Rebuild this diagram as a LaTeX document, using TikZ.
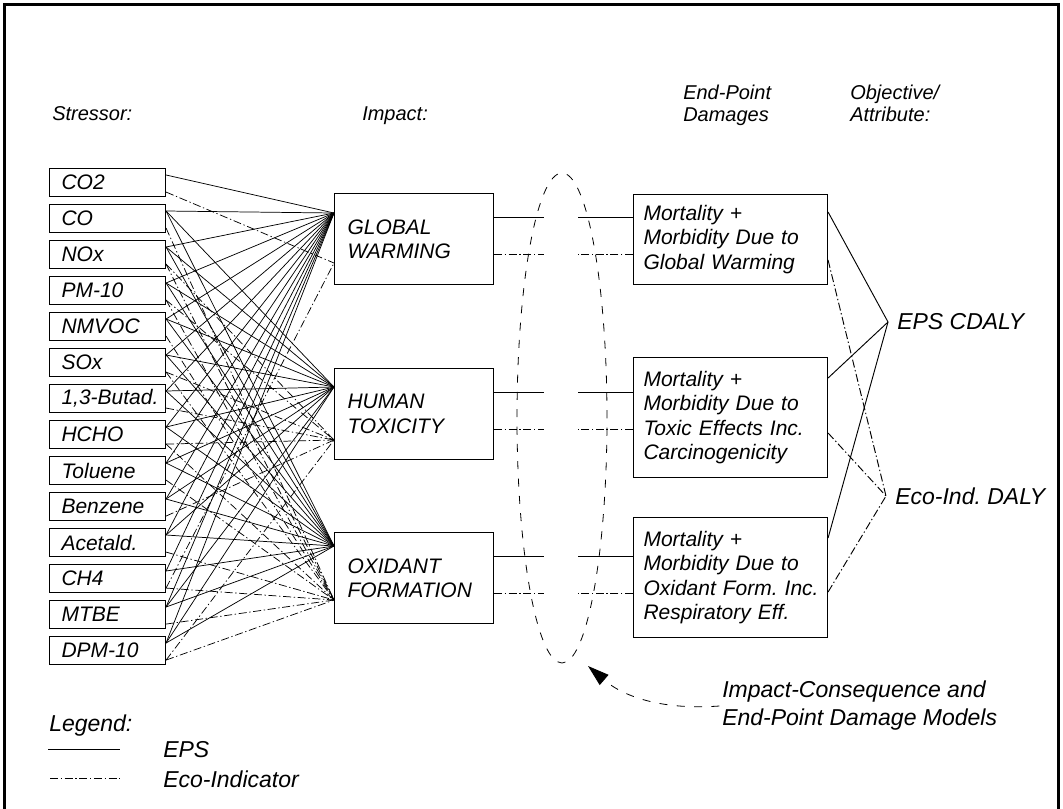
\documentclass[tikz,border=0pt]{standalone}
\usepackage{fontspec}
\setmainfont{Liberation Sans}
\usetikzlibrary{arrows.meta,calc}
\newcommand{\fbody}{\fontsize{15.75pt}{18.4pt}\selectfont\itshape}
\newcommand{\fhead}{\fontsize{15pt}{16.5pt}\selectfont\itshape}
\newcommand{\fbig}{\fontsize{17.25pt}{21pt}\selectfont\itshape}
\frenchspacing
\begin{document}
\begin{tikzpicture}[x=0.75pt,y=-0.75pt,
  box/.style={draw, line width=0.8pt, anchor=north west, align=left, inner ysep=0pt, font=\fbody},
  stressbox/.style={box, minimum height=21pt, text width=69pt, inner xsep=9pt},
  impactbox/.style={box, minimum height=68.25pt, text width=99.75pt, inner xsep=9.75pt},
  dmgbox/.style={box, text width=130.5pt, inner xsep=7.5pt},
  epsline/.style={line width=0.7pt},
  ecoline/.style={line width=0.7pt, dash pattern=on 6pt off 2pt on 1pt off 2pt},
  thinl/.style={line width=0.55pt},
  lbl/.style={anchor=base west, inner sep=0pt},
  roundash/.style={line width=0.6pt, dash pattern=on 6pt off 7pt},
]
\useasboundingbox (0,0) rectangle (1063,808);
% frame
\draw[line width=2.25pt] (4,815) -- (4,4) -- (1058,4) -- (1058,815);

% headers
\node[lbl, font=\fhead] (h1) at (52,120) {Stressor:};
\node[lbl, font=\fhead] (h2) at (362,120) {Impact:};
\node[lbl, font=\fhead] (h3a) at (683,99) {End-Point};
\node[lbl, font=\fhead] (h3b) at (683,121) {Damages};
\node[lbl, font=\fhead] (h4a) at (850,99) {Objective/};
\node[lbl, font=\fhead] (h4b) at (850,121) {Attribute:};

% stressors
\foreach \t [count=\i] in {CO2, CO, NOx, PM-10, NMVOC, SOx, {1,3-Butad.}, HCHO, Toluene, Benzene, Acetald., CH4, MTBE, DPM-10}
  \node[stressbox] (s\i) at (49,{168+36*(\i-1)}) {\mbox{\t}};

% impacts
\node[impactbox] (gw) at (334,193) {GLOBAL\\WARMING};
\node[impactbox] (ht) at (334,368) {HUMAN\\TOXICITY};
\node[impactbox] (ox) at (334,532) {OXIDANT\\FORMATION};

% damages
\node[dmgbox, minimum height=67.5pt] (dgw) at (633,194)
  {\mbox{Mortality +}\\\mbox{Morbidity Due to}\\\mbox{Global Warming}};
\node[dmgbox, minimum height=90pt] (dht) at (633,357)
  {\mbox{Mortality +}\\\mbox{Morbidity Due to}\\\mbox{Toxic Effects Inc.}\\\mbox{Carcinogenicity}};
\node[dmgbox, minimum height=90pt] (dox) at (633,517)
  {\mbox{Mortality +}\\\mbox{Morbidity Due to}\\\mbox{Oxidant Form. Inc.}\\\mbox{Respiratory Eff.}};

% objectives
\node[font=\fbig, anchor=west, inner xsep=6.75pt, inner ysep=0pt] (eps) at (888,322) {EPS CDALY};
\node[font=\fbig, anchor=west, inner xsep=6.75pt, inner ysep=0pt] (eco) at (886,496) {Eco-Ind. DALY};

% stressor -> impact (EPS, solid)
\foreach \i in {1,...,14}
  \draw[thinl] ([yshift=-5.25pt]s\i.north east) -- ([yshift=-15pt]gw.north west);
\foreach \i in {2,3,4,5,6,7,8,9,10,11,13,14}
  \draw[thinl] ([yshift=-5.25pt]s\i.north east) -- ([yshift=-14.25pt]ht.north west);
\foreach \i in {2,3,4,5,6,7,8,9,10,11,12,13,14}
  \draw[thinl] ([yshift=-5.25pt]s\i.north east) -- ([yshift=-10.5pt]ox.north west);
% stressor -> impact (Eco-indicator, dash-dot)
\foreach \i in {1,12}
  \draw[thinl, ecoline, line width=0.55pt] ([yshift=3.75pt]s\i.south east) -- ([yshift=-52.5pt]gw.north west);
\foreach \i in {3,4,6,7,8,10,14}
  \draw[thinl, ecoline, line width=0.55pt] ([yshift=3.75pt]s\i.south east) -- ([yshift=-54pt]ht.north west);
\foreach \i in {2,3,4,5,6,8,9,11,12,13,14}
  \draw[thinl, ecoline, line width=0.55pt] ([yshift=3.75pt]s\i.south east) -- ([yshift=-51pt]ox.north west);

% impact -> damage (interrupted by the model ellipse)
\foreach \a/\d in {gw/dgw, ht/dht, ox/dox} {
  \coordinate (\a s) at ([yshift=-18pt]\a.north east);
  \coordinate (\a e) at ([yshift=-45.75pt]\a.north east);
  \draw[epsline] (\a s) -- ++(50,0);
  \draw[epsline] (\d.west |- \a s) -- ++(-55,0);
  \draw[ecoline] (\a e) -- ++(50,0);
  \draw[ecoline] (\d.west |- \a e) -- ++(-55,0);
}

% damage -> objectives
\draw[epsline] ([yshift=-13.5pt]dgw.north east) -- (eps.west);
\draw[ecoline] ([yshift=-49.5pt]dgw.north east) -- (eco.west);
\draw[epsline] ([yshift=-15.75pt]dht.north east) -- (eps.west);
\draw[ecoline] ([yshift=-57pt]dht.north east) -- (eco.west);
\draw[epsline] ([yshift=-15.75pt]dox.north east) -- (eps.west);
\draw[ecoline] ([yshift=-56.25pt]dox.north east) -- (eco.west);

% model ellipse
\draw[roundash] (562,418) ellipse [x radius=33.75pt, y radius=183.75pt];

% annotation
\node[font=\fbig, align=left, anchor=west, inner sep=0pt] (ann) at (722,706)
  {Impact-Consequence and\\End-Point Damage Models};
\coordinate (arrtip) at (588,666);
\draw[roundash, -{Triangle[length=16pt,width=10pt]}]
  ([xshift=-2pt]ann.west) .. controls (665,710) and (625,698) .. (arrtip);

% legend
\node[lbl, font=\fbig] (lg) at (49,731) {Legend:};
\node[lbl, font=\fbig] (lg1) at (163,757) {EPS};
\node[lbl, font=\fbig] (lg2) at (163,787) {Eco-Indicator};
\coordinate (l1a) at (48,749);
\coordinate (l1b) at (120,749);
\coordinate (l2a) at (50,778);
\coordinate (l2b) at (120,778);
\draw[epsline] (l1a) -- (l1b);
\draw[ecoline] (l2a) -- (l2b);
\end{tikzpicture}
\end{document}
